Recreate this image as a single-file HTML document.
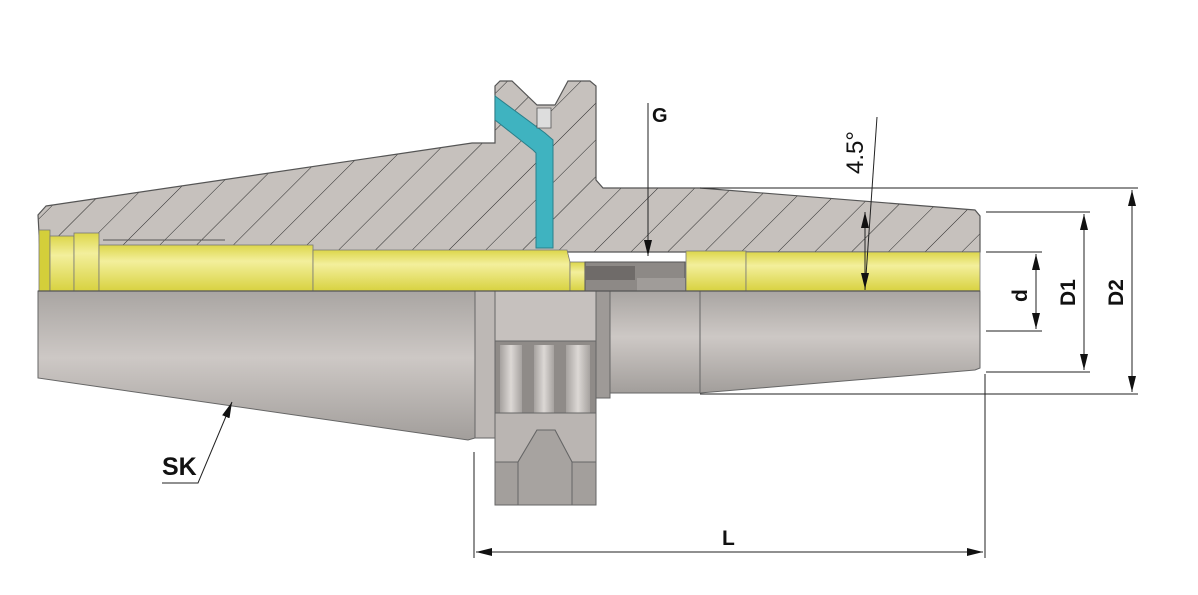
<!DOCTYPE html>
<html><head><meta charset="utf-8"><style>
html,body{margin:0;padding:0;background:#fff;}
svg{display:block;}
text{font-family:"Liberation Sans",sans-serif;font-weight:bold;fill:#111;}
</style></head><body>
<svg width="1198" height="595" viewBox="0 0 1198 595" xmlns="http://www.w3.org/2000/svg">
<defs>
<pattern id="h" patternUnits="userSpaceOnUse" width="26" height="26" patternTransform="rotate(-45)">
<rect width="26" height="26" fill="#c6c1bd"/>
<line x1="0" y1="0" x2="26" y2="0" stroke="#2a2a2a" stroke-width="1.1"/>
</pattern>
<linearGradient id="g" x1="0" y1="0" x2="0" y2="1">
<stop offset="0" stop-color="#a9a5a2"/><stop offset="0.45" stop-color="#cdc8c5"/><stop offset="1" stop-color="#a29e9b"/>
</linearGradient>
<linearGradient id="y" x1="0" y1="0" x2="0" y2="1">
<stop offset="0" stop-color="#dcd64a"/><stop offset="0.35" stop-color="#f3ef9c"/><stop offset="1" stop-color="#d8d240"/>
</linearGradient>
<linearGradient id="gv" x1="0" y1="0" x2="1" y2="0">
<stop offset="0" stop-color="#a6a29f"/><stop offset="0.5" stop-color="#dcd8d5"/><stop offset="1" stop-color="#a6a29f"/>
</linearGradient>
<marker id="a" viewBox="0 0 16 8" refX="16" refY="4" markerWidth="16" markerHeight="8" orient="auto-start-reverse" markerUnits="userSpaceOnUse">
<path d="M0,0 L16,4 L0,8 Z" fill="#111"/></marker>
</defs>

<path d="M46,206 L472,143 L495,143 L495,86 L500,81 L512,81 L537,105 L555,105 L568,81 L590,81 L596,86 L596,180 L603,188 L700,188 L975,210 L980,216 L980,252 L40,252 L38,215 Z" fill="url(#h)" stroke="#555" stroke-width="1.2"/>

<path d="M38,291 L475,291 L475,438 L468,440 L38,378 Z" fill="url(#g)" stroke="#666" stroke-width="1"/>
<rect x="475" y="291" width="20" height="147" fill="#bdb8b5" stroke="#666"/>
<rect x="495" y="291" width="101" height="50" fill="#c6c1be" stroke="#666"/>
<rect x="495" y="341" width="101" height="72" fill="#8f8b88" stroke="#666"/>
<rect x="500" y="345" width="22" height="68" fill="url(#gv)"/>
<rect x="534" y="345" width="20" height="68" fill="url(#gv)"/>
<rect x="566" y="345" width="24" height="68" fill="url(#gv)"/>
<path d="M495,413 L596,413 L596,500 L590,505 L572,505 L572,462 L555,430 L537,430 L518,462 L518,505 L500,505 L495,500 Z" fill="#bab5b2" stroke="#666"/>
<path d="M518,505 L518,462 L537,430 L555,430 L572,462 L572,505 Z" fill="#a7a3a0" stroke="#666"/>
<rect x="495" y="462" width="23" height="43" fill="#a39f9c" stroke="#666"/>
<rect x="572" y="462" width="24" height="43" fill="#a39f9c" stroke="#666"/>
<rect x="596" y="291" width="14" height="107" fill="#9e9a97" stroke="#666"/>
<rect x="610" y="291" width="90" height="102" fill="url(#g)" stroke="#666"/>
<path d="M700,291 L980,291 L980,368 L975,370 L700,393 Z" fill="url(#g)" stroke="#666"/>

<path d="M39,230 L50,230 L50,291 L39,291 Z" fill="#d4cf3a" stroke="#777" stroke-width="0.8"/>
<rect x="50" y="236" width="24" height="55" fill="url(#y)" stroke="#777" stroke-width="0.8"/>
<rect x="74" y="233" width="25" height="58" fill="url(#y)" stroke="#777" stroke-width="0.8"/>
<rect x="99" y="245" width="214" height="46" fill="url(#y)" stroke="#777" stroke-width="0.8"/>
<path d="M313,250 L567,250 L570,262 L570,291 L313,291 Z" fill="url(#y)" stroke="#777" stroke-width="0.8"/>
<rect x="570" y="262" width="15" height="29" fill="url(#y)" stroke="#777" stroke-width="0.8"/>
<line x1="103" y1="240" x2="225" y2="240" stroke="#555" stroke-width="1"/>
<rect x="585" y="262" width="100" height="29" fill="#8d8986" stroke="#555"/>
<rect x="585" y="266" width="50" height="14" fill="#6f6b69"/>
<rect x="637" y="278" width="48" height="13" fill="#a09c99"/>
<rect x="686" y="251" width="60" height="40" fill="url(#y)" stroke="#777" stroke-width="0.8"/>
<rect x="746" y="252" width="234" height="39" fill="url(#y)" stroke="#777" stroke-width="0.8"/>
<line x1="38" y1="291" x2="980" y2="291" stroke="#555" stroke-width="1.2"/>

<path d="M495,96 L495,120 L533,150 L536,153 L536,248 L553,248 L553,140 L545,133 Z" fill="#3fb3c0" stroke="#2a7f8a" stroke-width="1"/>
<path d="M537,108 L551,108 L551,128 L537,128 Z" fill="#ddd" stroke="#555" stroke-width="0.8"/>

<g stroke="#222" stroke-width="1" fill="none">
<line x1="700" y1="188" x2="1138" y2="188"/>
<line x1="700" y1="394" x2="1138" y2="394"/>
<line x1="986" y1="212" x2="1090" y2="212"/>
<line x1="986" y1="372" x2="1090" y2="372"/>
<line x1="986" y1="252" x2="1042" y2="252"/>
<line x1="986" y1="331" x2="1042" y2="331"/>
<line x1="1132" y1="190" x2="1132" y2="392" marker-start="url(#a)" marker-end="url(#a)"/>
<line x1="1084" y1="214" x2="1084" y2="370" marker-start="url(#a)" marker-end="url(#a)"/>
<line x1="1036" y1="254" x2="1036" y2="329" marker-start="url(#a)" marker-end="url(#a)"/>
<line x1="474" y1="452" x2="474" y2="558"/>
<line x1="985" y1="374" x2="985" y2="558"/>
<line x1="476" y1="552" x2="983" y2="552" marker-start="url(#a)" marker-end="url(#a)"/>
<line x1="877" y1="117" x2="865" y2="290"/>
<line x1="865" y1="212" x2="865" y2="289" marker-start="url(#a)" marker-end="url(#a)"/>
<line x1="648" y1="103" x2="648" y2="256" marker-end="url(#a)"/>
<polyline points="162,483 198,483 232,402" marker-end="url(#a)"/>
</g>

<text x="652" y="122" font-size="20">G</text>
<text x="162" y="475" font-size="25">SK</text>
<text x="722" y="545" font-size="21">L</text>
<text transform="translate(863,174) rotate(-90)" font-size="24" style="font-weight:normal">4.5°</text>
<text transform="translate(1027,302) rotate(-90)" font-size="21">d</text>
<text transform="translate(1075,306) rotate(-90)" font-size="21">D1</text>
<text transform="translate(1123,306) rotate(-90)" font-size="21">D2</text>
</svg>
</body></html>
